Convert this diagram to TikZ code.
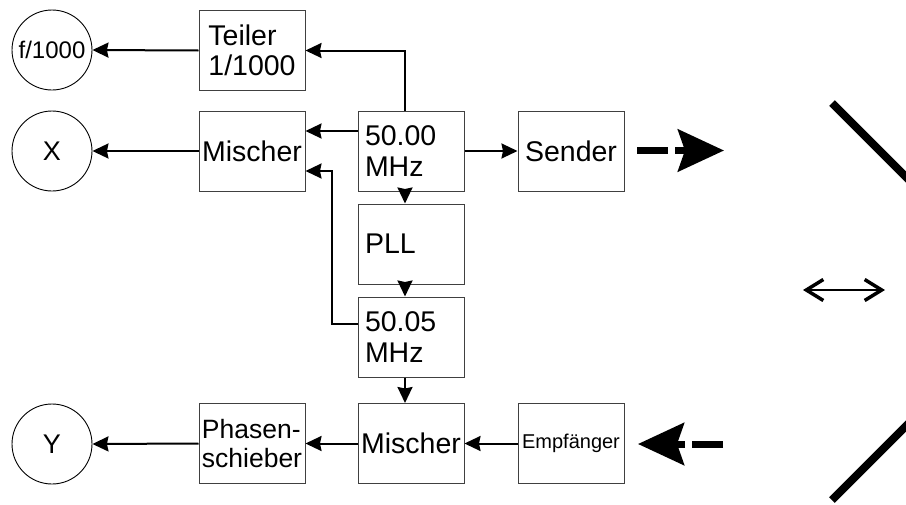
\documentclass[tikz,border=0pt]{standalone}
\usepackage{fontspec}
\setmainfont{Liberation Sans}
\usetikzlibrary{arrows.meta}
\tikzset{
  box/.style={draw=black!75, line width=1pt, rectangle, minimum width=106pt, minimum height=80pt, inner sep=0pt, font=\fontsize{28.5}{30.5}\selectfont},
  lbox/.style={box, text width=92pt, align=left},
  ring/.style={draw=black, line width=0.9pt, circle, minimum size=80pt, inner sep=0pt, font=\fontsize{27}{30}\selectfont},
  conn/.style={line width=2pt, -{Stealth[length=16pt,width=15pt,inset=1.5pt]}},
  radio/.style={line width=7pt, dash pattern=on 31pt off 7pt, -{Stealth[length=46pt,width=42pt,inset=7pt]}},
  mirror/.style={line width=8pt}
}
\begin{document}
\begin{tikzpicture}[x=1pt,y=-1pt]
\clip (0,0) rectangle (906,504);
\fill[white] (0,0) rectangle (906,504);
% circles
\node[ring, font=\fontsize{24}{28}\selectfont] (f) at (52,50) {f/1000};
\node[ring] (X) at (52,151) {X};
\node[ring] (Y) at (52,444) {Y};
% boxes
\node[box, align=left] (teiler) at (252,50.5) {Teiler\\1/1000};
\node[box] (mix1) at (252,151) {Mischer};
\node[box, align=left, font=\fontsize{26.5}{29}\selectfont] (phase) at (252,443.5) {Phasen-\\schieber};
\node[lbox] (osc1) at (411,151) {50.00\\MHz};
\node[box] (sender) at (571,151) {Sender};
\node[lbox] (pll) at (411,244) {PLL};
\node[lbox] (osc2) at (411,337) {50.05\\MHz};
\node[box] (mix2) at (411,443.5) {Mischer};
\node[box, font=\fontsize{20}{24}\selectfont] (empf) at (571,443.5) {Empfänger};
% connectors
\draw[conn] (teiler.west) -- (f.east);
\draw[conn] ([xshift=-6pt]osc1.north) |- (teiler.east);
\draw[conn] ([yshift=20pt]osc1.west) -- ([yshift=20pt]mix1.east);
\coordinate (fb) at (332,171);
\draw[conn] ([yshift=13pt]osc2.west) -| (fb) -- ([yshift=-20pt]mix1.east);
\draw[conn] (mix1.west) -- (X.east);
\draw[conn] (osc1.east) -- (sender.west);
\draw[conn] ([xshift=-6pt]osc1.south) -- ([xshift=-6pt]pll.north);
\draw[conn] ([xshift=-6pt]pll.south) -- ([xshift=-6pt]osc2.north);
\draw[conn] ([xshift=-6pt]osc2.south) -- ([xshift=-6pt]mix2.north);
\draw[conn] (empf.west) -- (mix2.east);
\draw[conn] (mix2.west) -- (phase.east);
\draw[conn] (phase.west) -- (Y.east);
% radio paths
\coordinate (txa) at (637,150.5);
\coordinate (txb) at (724,150.5);
\coordinate (rxa) at (723,444);
\coordinate (rxb) at (638,444);
\draw[radio] (txa) -- (txb);
\draw[radio] (rxa) -- (rxb);
% double arrow
\coordinate (da) at (803,290);
\coordinate (db) at (885,290);
\draw[line width=2.5pt, {Straight Barb[length=17pt,width=21pt,line width=3.5pt]}-{Straight Barb[length=17pt,width=21pt,line width=3.5pt]}] (da) -- (db);
% mirrors
\coordinate (m1a) at (832,103);
\coordinate (m1b) at (1000,271);
\coordinate (m2a) at (832,500);
\coordinate (m2b) at (1000,332);
\draw[mirror] (m1a) -- (m1b);
\draw[mirror] (m2a) -- (m2b);
\end{tikzpicture}
\end{document}
